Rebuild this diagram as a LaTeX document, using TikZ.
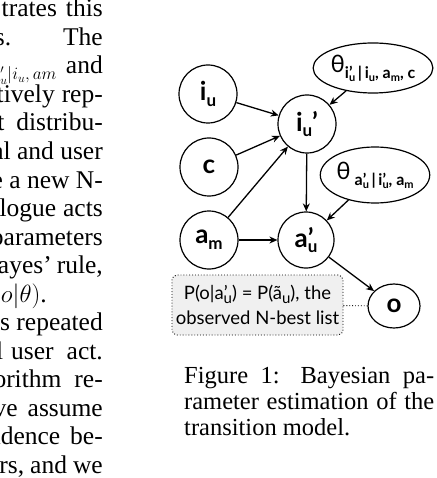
\documentclass[tikz,border=0pt]{standalone}
\usepackage{fontspec}
\setmainfont{Liberation Serif}
\newfontfamily\dsans{Lato}
\usetikzlibrary{arrows.meta,shapes.geometric}
\newcommand\sbu[1]{\raisebox{-0.22em}{\fontsize{17}{17}\selectfont #1}}
\newcommand\bsb[1]{\raisebox{-0.22em}{\fontsize{15}{15}\selectfont #1}}
\newcommand\ssb[1]{\raisebox{-0.2em}{\fontsize{11}{11}\selectfont #1}}
\begin{document}
\begin{tikzpicture}[x=1pt,y=-1pt,
  var/.style={draw, circle, line width=1.2pt, minimum size=58pt, inner sep=0pt,
    font=\dsans\bfseries\fontsize{26}{26}\selectfont},
  param/.style={draw, ellipse, line width=1.2pt, inner sep=0pt,
    font=\dsans\fontsize{24}{24}\selectfont},
  edge/.style={-{Stealth[length=8pt,width=7pt]}, line width=1.3pt},
  body/.style={anchor=base east, inner sep=0pt, font=\fontsize{25.5}{28.5}\selectfont},
  captext/.style={anchor=base west, inner sep=0pt, font=\fontsize{24.5}{26.5}\selectfont},
  note/.style={draw, dotted, line width=0.9pt, rounded corners=5pt, fill=gray!12,
    minimum width=171pt, minimum height=60pt, inner sep=2pt, align=center,
    font=\dsans\fontsize{18.5}{25}\selectfont}
]
\useasboundingbox (0,0) rectangle (436,478);
\clip (0,0) rectangle (436,478);
% left column text
\node[body] (l0) at (103,17) {trates\hspace{9pt}this};
\node[body] (l1) at (103,45.5) {s.\hspace{52pt}The};
\node[body] (l2) at (103,74) {$\theta_{\raisebox{-2pt}{\fontsize{18}{18}\selectfont$i'_u|i_u,am$}}$\hspace{9pt}and};
\node[body] (l3) at (103,102.5) {tively\hspace{7pt}rep-};
\node[body] (l4) at (103,131) {t\hspace{12pt}distribu-};
\node[body] (l5) at (103,159.5) {al and user};
\node[body] (l6) at (103,188) {e a new N-};
\node[body] (l7) at (103,216.5) {logue\hspace{7pt}acts};
\node[body] (l8) at (103,245) {parameters};
\node[body] (l9) at (103,273.5) {ayes’\hspace{5pt}rule,};
\node[body] (l10) at (47,302) {$p(o|\theta)$.};
\node[body] (l11) at (103,330.5) {s repeated};
\node[body] (l12) at (103,359) {l\hspace{8pt}user\hspace{13pt}act.};
\node[body] (l13) at (103,387.5) {orithm\hspace{13pt}re-};
\node[body] (l14) at (103,416) {ve\hspace{10pt}assume};
\node[body] (l15) at (103,444.5) {ndence\hspace{10pt}be-};
\node[body] (l16) at (103,473) {rs,\hspace{6pt}and\hspace{6pt}we};
% caption
\node[captext] (c1) at (184,383) {\makebox[250pt][s]{Figure 1: Bayesian pa-}};
\node[captext] (c2) at (184,409) {\makebox[250pt][s]{rameter estimation of the}};
\node[captext] (c3) at (184,435) {transition model.};
% diagram
\node[var] (iu) at (208,94) {i\sbu{u}};
\node[var] (c) at (209,167) {c};
\node[var] (am) at (209,240) {a\sbu{m}};
\node[var] (iup) at (307,124) {i\sbu{u}’};
\node[var, minimum size=56pt] (aup) at (306,240) {a\rlap{’}\sbu{u}};
\node[var, ellipse, minimum width=52pt, minimum height=44pt] (o) at (394,306) {o};
\node[param, minimum width=112pt, minimum height=50pt] (th1) at (373,68)
  {θ\raisebox{-0.25em}{\bfseries\fontsize{16}{16}\selectfont i\rlap{’}\ssb{u}\,|\,i\ssb{u}, a\ssb{m}, c}};
\node[param, minimum width=106pt, minimum height=56pt] (th2) at (375,175)
  {θ\,\raisebox{-0.25em}{\bfseries\fontsize{16}{16}\selectfont a\rlap{’}\ssb{u}\,|\,i\rlap{’}\ssb{u}, a\ssb{m}}};
\node[note] (nb) at (257.5,305) {P(o|a\rlap{’}\bsb{u}) = P(ã\bsb{u}), the\\observed N-best list};
\draw[edge] (iu) -- (iup);
\draw[edge] (c) -- (iup);
\draw[edge] (am) -- (iup);
\draw[edge] (th1) -- (iup);
\draw[edge] (iup) -- (aup);
\draw[edge] (th2) -- (aup);
\draw[edge] (am) -- (aup);
\draw[edge] (aup) -- (o);
\draw[dotted, line width=0.9pt] (nb) -- (o);
\end{tikzpicture}
\end{document}
